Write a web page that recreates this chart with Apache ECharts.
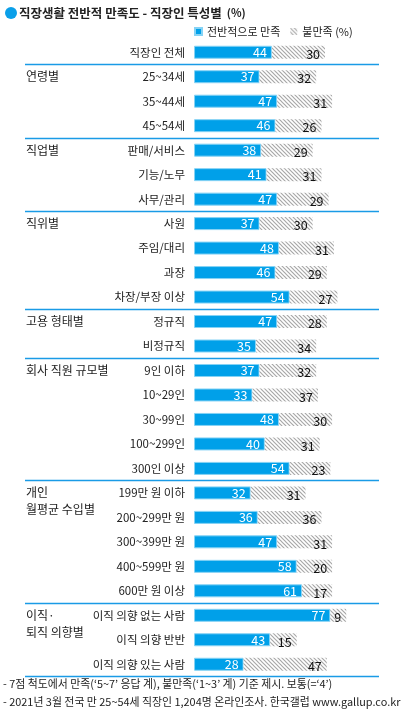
<!DOCTYPE html>
<html><head><meta charset="utf-8">
<script src="https://cdn.jsdelivr.net/npm/echarts@6/dist/echarts.min.js"></script>
<style>html,body{margin:0;padding:0;background:#fff}#c{width:415px;height:712px}</style>
</head><body><div id="c"></div>
<script>
var categories = ['직장인 전체','25~34세','35~44세','45~54세','판매/서비스','기능/노무','사무/관리','사원','주임/대리','과장','차장/부장 이상','정규직','비정규직','9인 이하','10~29인','30~99인','100~299인','300인 이상','199만 원 이하','200~299만 원','300~399만 원','400~599만 원','600만 원 이상','이직 의향 없는 사람','이직 의향 반반','이직 의향 있는 사람'];
var satisfied = [44,37,47,46,38,41,47,37,48,46,54,47,35,37,33,48,40,54,32,36,47,58,61,77,43,28];
var dissatisfied = [30,32,31,26,29,31,29,30,31,29,27,28,34,32,37,30,31,23,31,36,31,20,17,9,15,47];
var groupLabels = ['','연령별','','','직업별','','','직위별','','','','고용 형태별','','회사 직원 규모별','','','','',' \n개인\n월평균 수입별','','','','',' \n이직·\n퇴직 의향별','',''];
var groupStarts = [1,4,7,11,13,18,23];
var seriesNames = ['전반적으로 만족','불만족'];

var FONT = '"Noto Sans CJK KR", "Noto Sans", sans-serif';
var pc = document.createElement('canvas');
pc.width = 4; pc.height = 4;
var g = pc.getContext('2d');
g.fillStyle = '#fff'; g.fillRect(0,0,4,4);
g.strokeStyle = '#a8a8a8'; g.lineWidth = 1.2;
for (var k = -1; k <= 1; k++) { g.beginPath(); g.moveTo(k*4-1,-1); g.lineTo(k*4+5,5); g.stroke(); }

var chart = echarts.init(document.getElementById('c'));
chart.setOption({
  animation: false,
  title: [{
    left: 19, top: 4, padding: 0,
    text: '{b|직장생활 전반적 만족도 - 직장인 특성별} {n|(%)}',
    textStyle: { rich: {
      b: { fontFamily: FONT, fontSize: 12.5, fontWeight: 'bold', color: '#222' },
      n: { fontFamily: FONT, fontSize: 11, color: '#222' }
    } }
  }, {
    left: 3, top: 675, padding: 0,
    text: '- 7점 척도에서 만족(‘5~7’ 응답 계), 불만족(‘1~3’ 계) 기준 제시. 보통(=‘4’)\n- 2021년 3월 전국 만 25~54세 직장인 1,204명 온라인조사. 한국갤럽 www.gallup.co.kr',
    textStyle: { fontFamily: FONT, fontSize: 10.9, fontWeight: 'normal', color: '#222', lineHeight: 18 }
  }],
  graphic: [{ type: 'circle', shape: { cx: 11, cy: 13, r: 6 }, style: { fill: '#0a9fe9' } }],
  legend: {
    left: 194, top: 26, padding: 0, itemWidth: 7, itemHeight: 7, itemGap: 10,
    icon: 'rect', data: seriesNames,
    formatter: function (n) { return n === '불만족' ? '불만족 (%)' : n; },
    textStyle: { fontFamily: FONT, fontSize: 11, color: '#222' }
  },
  grid: { left: 25, right: 36, top: 40, height: 636.5, containLabel: false, outerBoundsMode: 'none' },
  xAxis: { type: 'value', min: -95.5, max: 104.5, show: false },
  yAxis: [{
    type: 'category', data: categories, inverse: true,
    axisLine: { show: false }, axisTick: { show: false },
    axisLabel: { interval: 0, margin: -160, fontFamily: FONT, fontSize: 11.5, color: '#222' },
    splitLine: { show: true, interval: function (i) { return groupStarts.indexOf(i) >= 0; },
      lineStyle: { color: '#1a9be6', width: 1.3 } }
  }, {
    type: 'category', data: groupLabels, inverse: true, position: 'left',
    axisLine: { show: false }, axisTick: { show: false }, splitLine: { show: false },
    axisLabel: { interval: 0, margin: -1, align: 'left', fontFamily: FONT, fontSize: 12, color: '#222', lineHeight: 17 }
  }],
  series: [{
    name: seriesNames[0], type: 'bar', stack: 'a', data: satisfied, barWidth: 13, yAxisIndex: 0,
    itemStyle: { color: '#00a0e9', borderColor: '#86d3f5', borderWidth: 1 },
    label: { show: true, position: 'insideRight', distance: 5, color: '#fff', fontFamily: FONT, fontSize: 12.5 }
  }, {
    name: seriesNames[1], type: 'bar', stack: 'a', data: dissatisfied, barWidth: 13, yAxisIndex: 0,
    itemStyle: { color: { image: pc, repeat: 'repeat' } },
    label: { show: true, position: 'insideRight', distance: 5, offset: [0, 2], color: '#111', fontFamily: FONT, fontSize: 12.5 }
  }]
});
</script></body></html>
